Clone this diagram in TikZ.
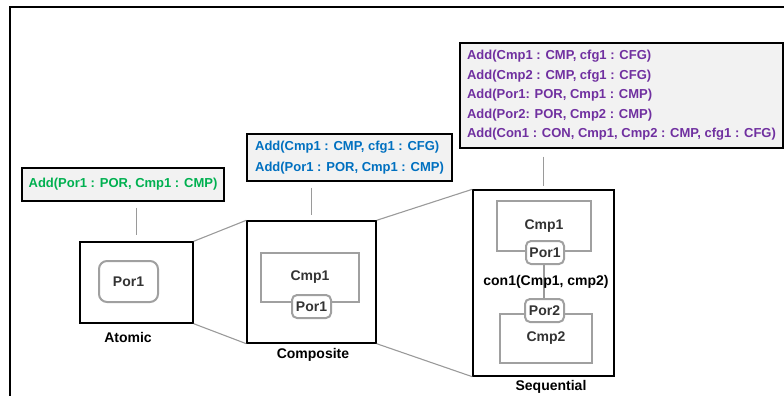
\documentclass[tikz,border=0pt]{standalone}
\usepackage{fontspec}
\setmainfont{Liberation Sans}
\definecolor{boxgray}{HTML}{F2F2F2}
\definecolor{partgray}{HTML}{A0A0A0}
\definecolor{linegray}{HTML}{9A9A9A}
\definecolor{labelgray}{HTML}{333333}
\definecolor{atomgreen}{HTML}{00B050}
\definecolor{compblue}{HTML}{0070C0}
\definecolor{seqpurple}{HTML}{7030A0}
\tikzset{
  cmdbox/.style={draw=black, line width=1.3pt, fill=boxgray, inner sep=0pt, align=left},
  levelbox/.style={draw=black, line width=1.4pt, inner sep=0pt},
  partbox/.style={draw=partgray, line width=2pt, inner sep=0pt, text=labelgray,
    font=\bfseries\fontsize{14}{16}\selectfont},
  portbox/.style={partbox, rounded corners=5pt, fill=white},
  levelname/.style={font=\bfseries\fontsize{14}{16}\selectfont, text=black, inner sep=0pt},
  zoomline/.style={draw=linegray, line width=1.1pt},
  link/.style={draw=linegray, line width=1.1pt},
}
\begin{document}
\begin{tikzpicture}[x=1pt, y=-1pt]
\useasboundingbox (0,0) rectangle (784,396);
% outer frame (runs past the page on the right and bottom)
\draw[line width=1.1pt] (800,7) -- (10,7) -- (10,410);

% command boxes
\node[cmdbox, minimum width=202pt, minimum height=33pt, text=atomgreen,
      font=\bfseries\fontsize{13}{19.5}\selectfont] (atomcmd) at (123,184.5)
  {Add(Por1 : POR, Cmp1 : CMP)};
\node[cmdbox, minimum width=205pt, minimum height=47pt, text=compblue,
      font=\bfseries\fontsize{13}{21}\selectfont] (compcmd) at (349.5,157.5)
  {Add(Cmp1 : CMP, cfg1 : CFG)\\Add(Por1 : POR, Cmp1 : CMP)};
\node[cmdbox, minimum width=323pt, minimum height=105pt, text=seqpurple,
      font=\bfseries\fontsize{13}{19.5}\selectfont] (seqcmd) at (621.5,95.5)
  {Add(Cmp1 : CMP, cfg1 : CFG)\\Add(Cmp2 : CMP, cfg1 : CFG)\\Add(Por1: POR, Cmp1 : CMP)\\Add(Por2: POR, Cmp2 : CMP)\\Add(Con1 : CON, Cmp1, Cmp2 : CMP, cfg1 : CFG)};

% atomic level
\node[levelbox, minimum width=113pt, minimum height=81pt] (atomic) at (136.5,282.5) {};
\node[portbox, rounded corners=8pt, minimum width=59pt, minimum height=41pt] (aport) at (128.5,281.5) {Por1};
\node[levelname] (atomicname) at (128,337) {Atomic};

% composite level
\node[levelbox, minimum width=129pt, minimum height=122pt] (composite) at (311.5,282) {};
\node[partbox, minimum width=98pt, minimum height=49pt] (ccmp) at (310,277.5) {Cmp1};
\node[portbox, minimum width=39pt, minimum height=23pt] (cport) at (311.5,306.5) {Por1};
\node[levelname] (compositename) at (313,355) {Composite};

% sequential level
\node[levelbox, minimum width=141pt, minimum height=186pt] (sequential) at (543.5,283) {};
\node[partbox, minimum width=94pt, minimum height=50pt] (scmpa) at (544,226) {Cmp1};
\node[partbox, minimum width=92pt, minimum height=49pt] (scmpb) at (546,338.5) {Cmp2};
\node[portbox, minimum width=38pt, minimum height=23pt] (sporta) at (545,252.5) {Por1};
\node[portbox, minimum width=39pt, minimum height=23pt] (sportb) at (544.5,310.5) {Por2};
\draw[link] (sporta.south -| 544,0) -- (sportb.north -| 544,0);
\node[levelname] (conname) at (546,282) {con1(Cmp1, cmp2)};
\node[levelname] (sequentialname) at (551,387) {Sequential};

% command boxes attached to their levels
\draw[link, shorten <=6pt, shorten >=6pt] (atomcmd.south -| atomic.north) -- (atomic.north);
\draw[link, shorten <=6pt, shorten >=5pt] (compcmd.south -| composite.north) -- (composite.north);
\draw[link, shorten <=8pt, shorten >=3pt] (seqcmd.south -| sequential.north) -- (sequential.north);

% zoom lines between levels
\draw[zoomline] (atomic.north east) -- (composite.north west);
\draw[zoomline] (atomic.south east) -- (composite.south west);
\draw[zoomline] (composite.north east) -- (sequential.north west);
\draw[zoomline] (composite.south east) -- (sequential.south west);
\end{tikzpicture}
\end{document}
